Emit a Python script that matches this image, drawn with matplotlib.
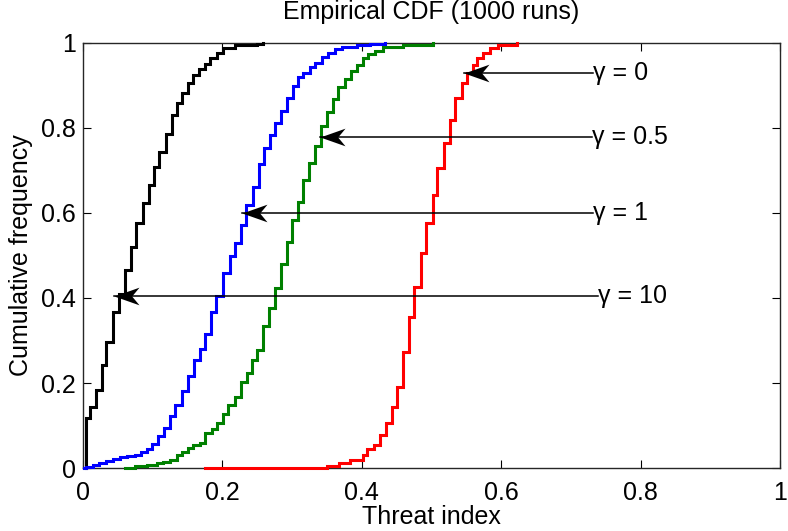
import matplotlib
matplotlib.use("Agg")
import matplotlib.pyplot as plt
from matplotlib.path import Path

# step points of each empirical CDF (x where it jumps, value after the jump)
black_x = [0.004, 0.004, 0.010, 0.019, 0.027, 0.034, 0.043, 0.052, 0.060, 0.069, 0.076,
           0.086, 0.095, 0.102, 0.110, 0.119, 0.128, 0.135, 0.143, 0.151, 0.158,
           0.166, 0.175, 0.182, 0.192, 0.201, 0.218, 0.250, 0.258]
black_y = [0.0, 0.118, 0.144, 0.184, 0.242, 0.297, 0.367, 0.41, 0.466, 0.52, 0.576,
           0.623, 0.666, 0.708, 0.744, 0.786, 0.83, 0.859, 0.882, 0.905, 0.925,
           0.939, 0.951, 0.964, 0.976, 0.988, 0.995, 0.998, 1.0]

blue_x = [0.002, 0.004, 0.014, 0.024, 0.034, 0.043, 0.053, 0.063, 0.075, 0.083, 0.092,
          0.100, 0.108, 0.116, 0.125, 0.133, 0.142, 0.151, 0.159, 0.168, 0.175,
          0.184, 0.191, 0.201, 0.211, 0.218, 0.227, 0.234, 0.244, 0.253, 0.260,
          0.268, 0.275, 0.284, 0.293, 0.301, 0.308, 0.316, 0.326, 0.333, 0.343,
          0.352, 0.362, 0.372, 0.393, 0.412, 0.433]
blue_y = [0.0, 0.003, 0.007, 0.012, 0.016, 0.021, 0.026, 0.028, 0.031, 0.038, 0.045,
          0.056, 0.075, 0.094, 0.122, 0.148, 0.182, 0.217, 0.255, 0.281, 0.315,
          0.368, 0.405, 0.458, 0.499, 0.529, 0.572, 0.619, 0.661, 0.715, 0.753,
          0.784, 0.811, 0.839, 0.871, 0.898, 0.919, 0.93, 0.943, 0.954, 0.968,
          0.977, 0.985, 0.991, 0.995, 0.998, 1.0]

green_x = [0.060, 0.075, 0.092, 0.106, 0.115, 0.125, 0.135, 0.143, 0.151, 0.158, 0.168,
           0.176, 0.185, 0.192, 0.201, 0.209, 0.218, 0.227, 0.235, 0.242, 0.250,
           0.258, 0.267, 0.275, 0.284, 0.293, 0.300, 0.308, 0.316, 0.324, 0.333,
           0.341, 0.350, 0.359, 0.366, 0.376, 0.385, 0.393, 0.402, 0.409, 0.419,
           0.430, 0.459, 0.502]
green_y = [0.0, 0.005, 0.007, 0.012, 0.014, 0.019, 0.031, 0.038, 0.047, 0.054, 0.059,
           0.082, 0.092, 0.106, 0.127, 0.148, 0.167, 0.202, 0.224, 0.254, 0.278,
           0.334, 0.376, 0.424, 0.48, 0.532, 0.584, 0.626, 0.678, 0.718, 0.758,
           0.805, 0.838, 0.868, 0.896, 0.915, 0.934, 0.948, 0.964, 0.974, 0.981,
           0.99, 0.995, 1.0]

red_x = [0.175, 0.350, 0.367, 0.383, 0.402, 0.408, 0.418, 0.426, 0.435, 0.443, 0.450,
         0.459, 0.468, 0.475, 0.485, 0.492, 0.502, 0.508, 0.518, 0.527, 0.534,
         0.544, 0.551, 0.560, 0.565, 0.574, 0.584, 0.595, 0.623]
red_y = [0.0, 0.005, 0.012, 0.019, 0.03, 0.045, 0.054, 0.078, 0.106, 0.144, 0.191,
         0.273, 0.355, 0.426, 0.506, 0.576, 0.642, 0.706, 0.765, 0.819, 0.871,
         0.906, 0.929, 0.948, 0.964, 0.976, 0.988, 0.995, 1.0]

# annotation labels: text, arrow tip, text position
labels = ['\u03b3 = 0', '\u03b3 = 0.5', '\u03b3 = 1', '\u03b3 = 10']
tips = [(0.547, 0.929), (0.340, 0.779), (0.229, 0.600), (0.045, 0.405)]
text_x = [0.732, 0.730, 0.732, 0.739]

tick_vals = [0, 0.2, 0.4, 0.6, 0.8, 1]
tick_labels = ['0', '0.2', '0.4', '0.6', '0.8', '1']

plt.rcParams['font.family'] = ['Liberation Sans', 'DejaVu Sans']
fs = 18

# matlab-like notched arrow head, tip at the origin, pointing left
head = Path([(0, 0), (17, 6), (12, 0), (17, -6), (0, 0)],
            [Path.MOVETO, Path.LINETO, Path.LINETO, Path.LINETO, Path.CLOSEPOLY])

fig = plt.figure(figsize=(7.88, 5.31), dpi=100, facecolor='w')
ax = fig.add_axes([0.105, 0.1186, 0.885, 0.8005])

for xs, ys, c in [(black_x, black_y, 'k'), (blue_x, blue_y, '#0000ff'),
                  (green_x, green_y, '#008000'), (red_x, red_y, '#ff0000')]:
    ax.step(xs, ys, where='post', color=c, lw=2.2, solid_joinstyle='miter',
            clip_on=False, zorder=3)

for lab, tip, tx in zip(labels, tips, text_x):
    ax.plot([tip[0], tx], [tip[1], tip[1]], color='k', lw=1.1, zorder=4)
    ax.plot([tip[0]], [tip[1]], marker=head, ms=36, color='k', mew=0, zorder=4)
    ax.text(tx, tip[1], lab, fontsize=fs, va='center', ha='left')

ax.set_xlim(0, 1)
ax.set_ylim(0, 1)
ax.set_xticks(tick_vals)
ax.set_xticklabels(tick_labels)
ax.set_yticks(tick_vals)
ax.set_yticklabels(tick_labels)
ax.tick_params(direction='in', length=6, width=0.8, top=True, right=True,
               labelsize=fs)
ax.tick_params(axis='x', pad=9)
ax.tick_params(axis='y', pad=5)
for s in ax.spines.values():
    s.set_linewidth(1.0)
    s.set_color('#262626')

ax.set_title('Empirical CDF (1000 runs)', fontsize=fs, pad=17)
ax.set_xlabel('Threat index', fontsize=fs, labelpad=0)
ax.set_ylabel('Cumulative frequency', fontsize=fs, labelpad=6)

plt.savefig('out.png', dpi=100)
